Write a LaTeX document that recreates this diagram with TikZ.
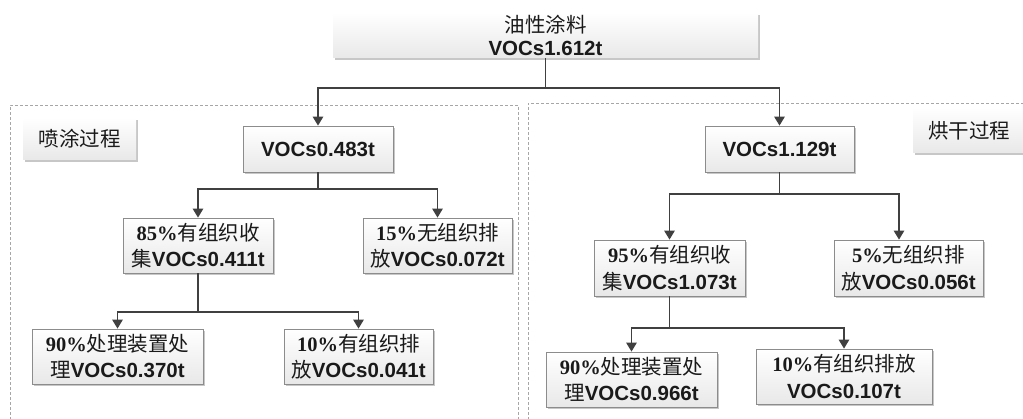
\documentclass[tikz,border=0pt]{standalone}
\usepackage{fontspec}
\setmainfont{Liberation Serif}
\newfontfamily\cjk{Noto Sans CJK SC}
\newfontfamily\vsans{Liberation Sans}
\usetikzlibrary{arrows.meta,shadows}
\newcommand\zh[1]{{\cjk #1}}
\newcommand\vo[1]{{\vsans\bfseries #1}}
\newcommand\pc[1]{{\bfseries #1}}
\definecolor{linec}{HTML}{404040}
\definecolor{boxb}{HTML}{8C8C8C}
\definecolor{txt}{HTML}{1A1A1A}
\tikzset{
  base/.style={inner sep=0pt, align=center, text=txt,
    font=\fontsize{20.5}{26.5}\selectfont,
    top color=white, bottom color=black!9,
    drop shadow={shadow xshift=2pt, shadow yshift=-2pt, opacity=0.22, fill=black}},
  flowbox/.style={base, draw=boxb, line width=0.8pt},
  plainbox/.style={base},
  conn/.style={draw=linec, line width=1.4pt},
  arr/.style={conn, -{Triangle[width=10.5pt,length=9pt]}},
  region/.style={draw=black!35, dashed, line width=0.6pt, dash pattern=on 3pt off 2pt}
}
\begin{document}
\begin{tikzpicture}[x=1pt,y=-1pt]
\useasboundingbox (0,0) rectangle (1023,419);
\fill[white] (0,0) rectangle (1023,419);
% dashed regions
\draw[region] (10,425) -- (10,105) -- (518,105) -- (518,425);
\draw[region] (528,425) -- (528,103) -- (1030,103);
% top
\node[plainbox, minimum width=425pt, minimum height=45pt] (top) at (545.5,35.5)
  {\zh{油性涂料}\\[-4pt]\vo{VOCs1.612t}};
% labels
\node[plainbox, minimum width=113pt, minimum height=42pt] (l1) at (79.5,139) {\zh{喷涂过程}};
\node[plainbox, minimum width=112pt, minimum height=45pt] (l2) at (969,130.5) {\zh{烘干过程}};
% left tree
\node[flowbox, minimum width=150pt, minimum height=46pt] (a1) at (318,149) {\vo{VOCs0.483t}};
\node[flowbox, minimum width=150pt, minimum height=55pt] (a2) at (198,245.5)
  {\pc{85\%}\zh{有组织收}\\\zh{集}\vo{VOCs0.411t}};
\node[flowbox, minimum width=149pt, minimum height=55pt] (a3) at (437.5,245.5)
  {\pc{15\%}\zh{无组织排}\\\zh{放}\vo{VOCs0.072t}};
\node[flowbox, minimum width=171pt, minimum height=55pt] (a4) at (117.5,356.5)
  {\pc{90\%}\zh{处理装置处}\\\zh{理}\vo{VOCs0.370t}};
\node[flowbox, minimum width=149pt, minimum height=55pt] (a5) at (358.5,356.5)
  {\pc{10\%}\zh{有组织排}\\\zh{放}\vo{VOCs0.041t}};
% right tree
\node[flowbox, minimum width=149pt, minimum height=46pt] (b1) at (779.5,149) {\vo{VOCs1.129t}};
\node[flowbox, minimum width=151pt, minimum height=56pt] (b2) at (669.5,268)
  {\pc{95\%}\zh{有组织收}\\\zh{集}\vo{VOCs1.073t}};
\node[flowbox, minimum width=149pt, minimum height=56pt] (b3) at (908.5,268)
  {\pc{5\%}\zh{无组织排}\\\zh{放}\vo{VOCs0.056t}};
\node[flowbox, minimum width=171pt, minimum height=55pt] (b4) at (631.5,379.5)
  {\pc{90\%}\zh{处理装置处}\\\zh{理}\vo{VOCs0.966t}};
\node[flowbox, minimum width=176pt, minimum height=55pt] (b5) at (844,376.5)
  {\pc{10\%}\zh{有组织排放}\\\vo{VOCs0.107t}};
% connectors
\coordinate (j0) at (545.5,88);
\draw[conn] (top.south) -- (j0);
\draw[arr] (j0) -| (a1.north);
\draw[arr] (j0) -| (b1.north);
\coordinate (ja) at (318,189);
\draw[conn] (a1.south) -- (ja);
\draw[arr] (ja) -| (a2.north);
\draw[arr] (ja) -| (a3.north);
\coordinate (jb) at (198,312);
\draw[conn] (a2.south) -- (jb);
\draw[arr] (jb) -| (a4.north);
\draw[arr] (jb) -| (a5.north);
\coordinate (jc) at (779.5,194);
\draw[conn] (b1.south) -- (jc);
\draw[arr] (jc) -| (b2.north);
\draw[arr] (jc) -| ([xshift=-9.5pt]b3.north);
\coordinate (jd) at (669.5,328);
\draw[conn] (b2.south) -- (jd);
\draw[arr] (jd) -| (b4.north);
\draw[arr] (jd) -| (b5.north);
\end{tikzpicture}
\end{document}
